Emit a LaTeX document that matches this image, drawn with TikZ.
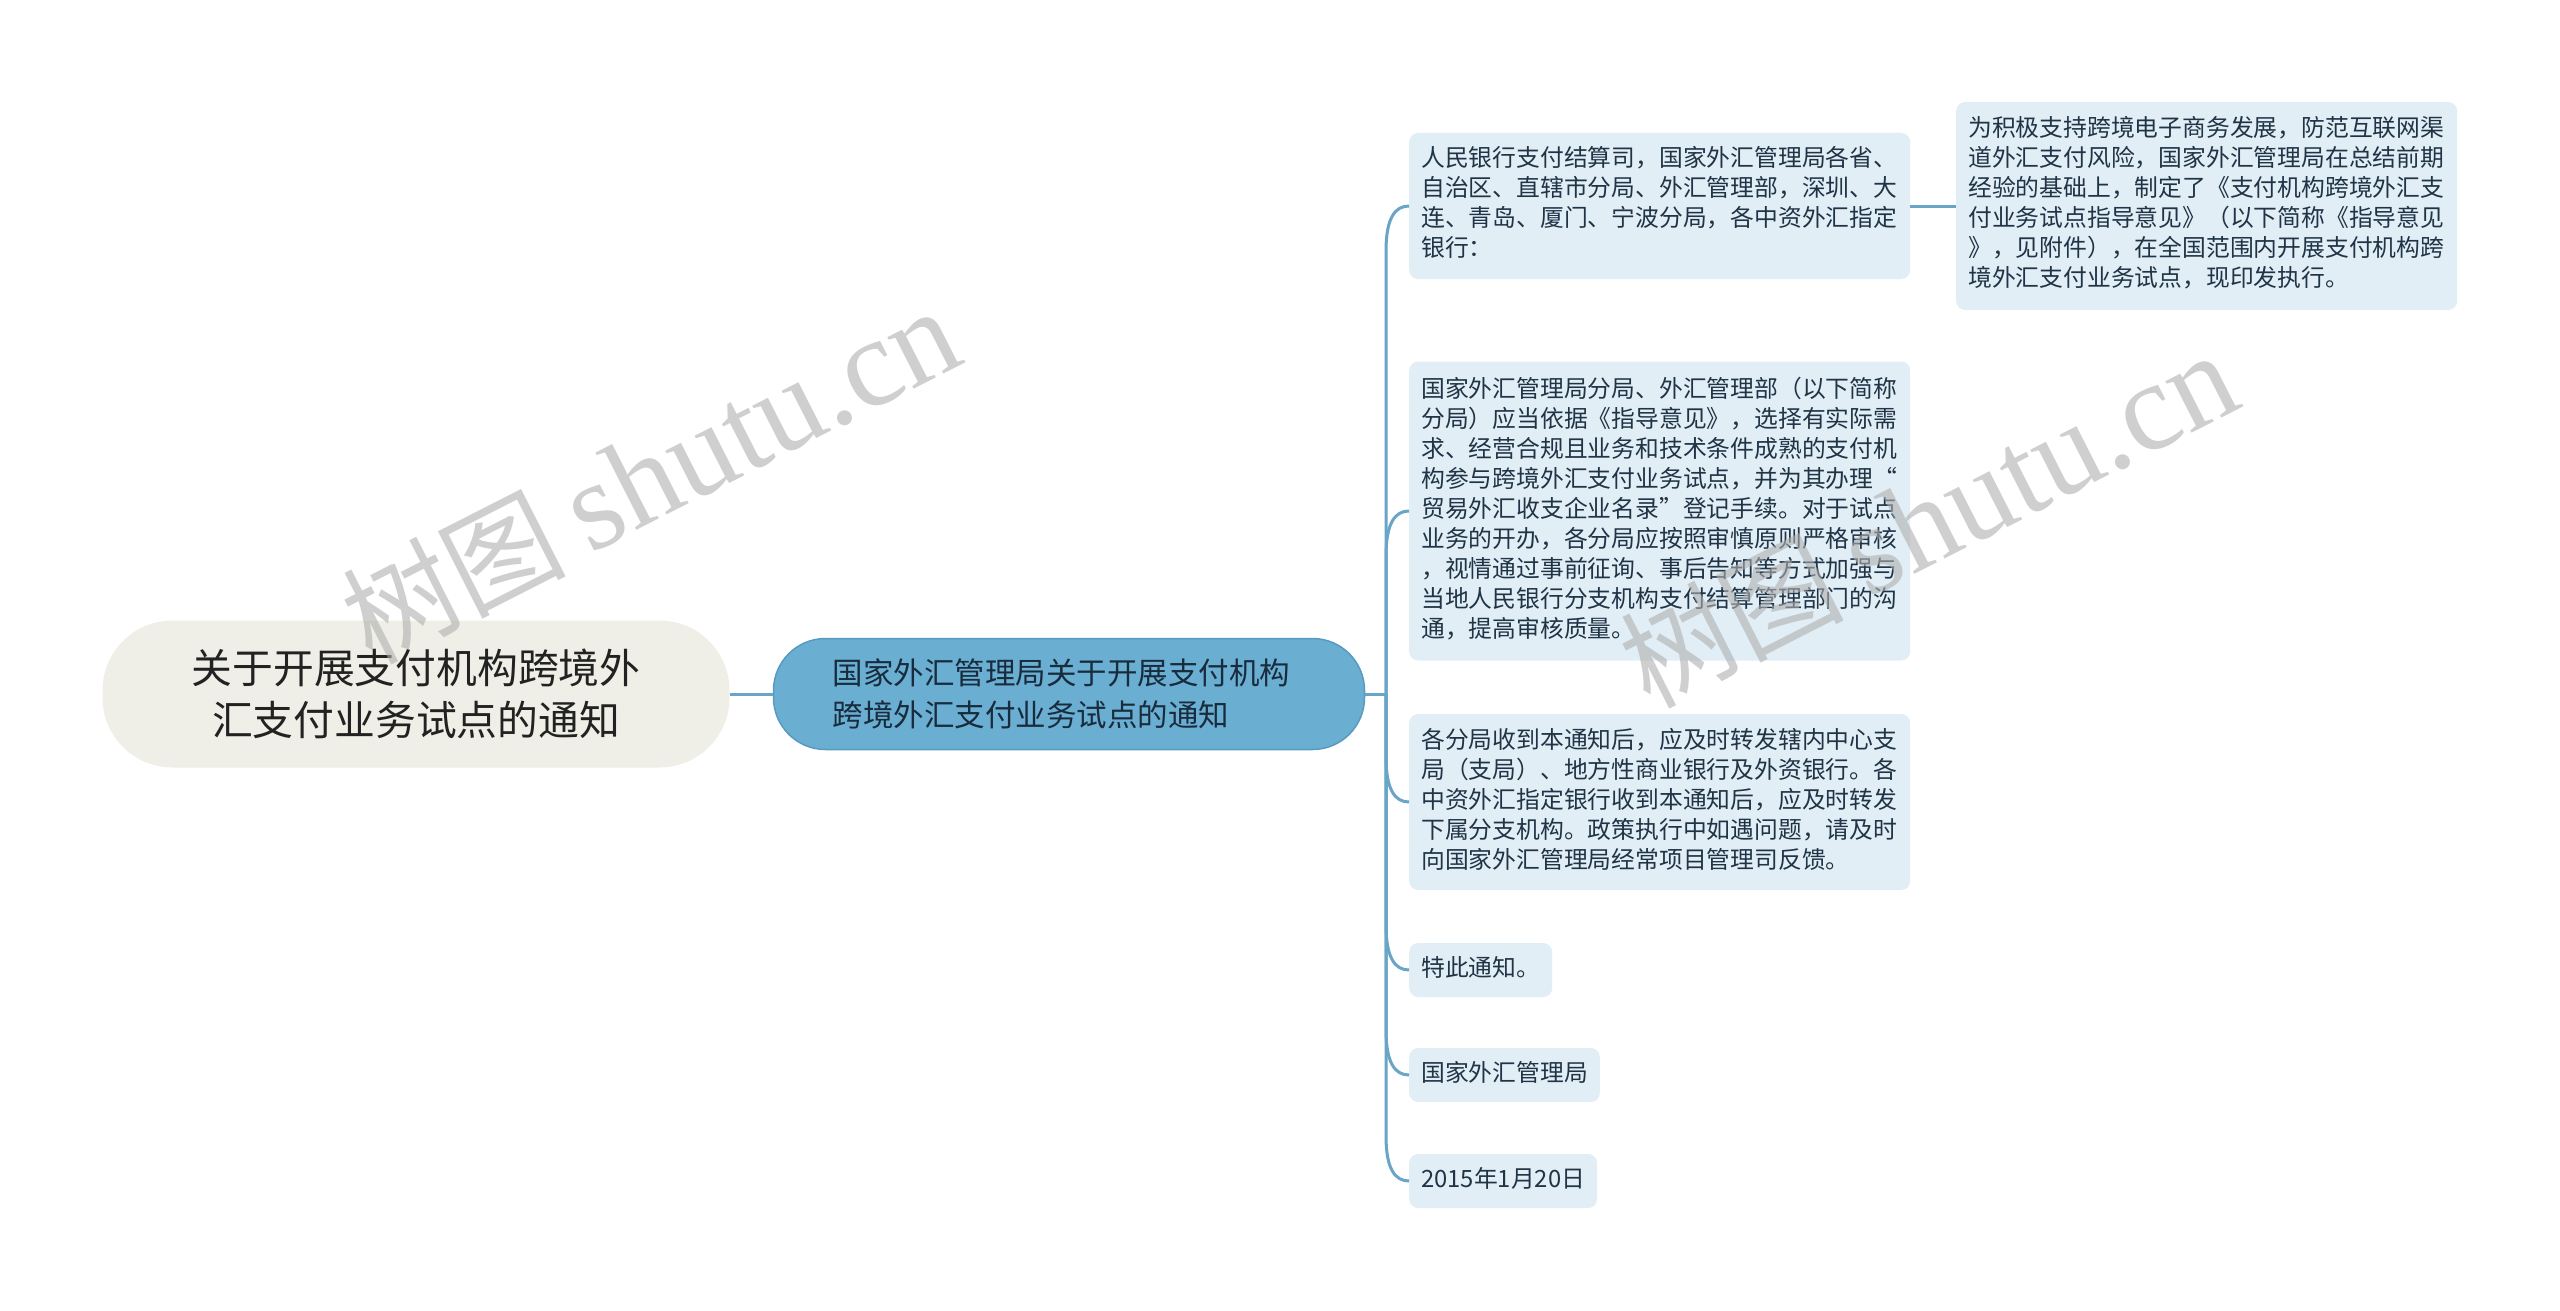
\documentclass[tikz,border=0pt]{standalone}
\usepackage{fontspec}
\newfontfamily\cjk{Noto Sans CJK SC}
\newfontfamily\wmserif{Liberation Serif}
\usetikzlibrary{calc}
\definecolor{conncol}{RGB}{104,165,198}
\definecolor{childfill}{RGB}{226,238,246}
\definecolor{childtext}{RGB}{32,52,70}
\definecolor{mainfill}{RGB}{106,174,210}
\definecolor{maindraw}{RGB}{88,154,192}
\definecolor{maintext}{RGB}{24,44,62}
\definecolor{rootfill}{RGB}{239,239,231}
\definecolor{roottext}{RGB}{34,34,34}
\definecolor{wmcol}{RGB}{175,175,175}
\tikzset{
  conn/.style={draw=conncol, line width=3pt},
  leafbox/.style={fill=childfill, rounded corners=9pt, anchor=west, inner xsep=12pt, inner ysep=13pt,
    text=childtext, align=left, font=\cjk\fontsize{23.8}{30}\selectfont},
  widebox/.style={leafbox, text width=477pt},
  wmark/.style={text=wmcol, opacity=0.6, anchor=base west, rotate=27, inner sep=0pt},
}
\newcommand{\wmtext}{{\cjk\fontsize{112}{112}\selectfont 树图}\hspace{22pt}{\wmserif\fontsize{126}{126}\selectfont shutu.cn}}
\begin{document}
\begin{tikzpicture}[x=1pt,y=-1pt]
\useasboundingbox (0,0) rectangle (2560,1311);
\fill[white] (0,0) rectangle (2560,1311);

% root
\node[fill=rootfill, rounded corners=70pt, minimum width=627pt, minimum height=147pt, inner sep=0pt,
  align=center, text=roottext, font=\cjk\fontsize{40.8}{52}\selectfont] (root) at (416,694)
  {关于开展支付机构跨境外\\汇支付业务试点的通知};

% main
\node[fill=mainfill, draw=maindraw, line width=1.5pt, rounded corners=52pt, minimum height=111pt,
  text width=473pt, inner xsep=59pt, inner ysep=0pt, align=left, text=maintext,
  font=\cjk\fontsize{30.5}{42}\selectfont] (main) at (1069,694)
  {国家外汇管理局关于开展支付机构\\跨境外汇支付业务试点的通知};

% children
\node[widebox] (c1) at (1409,206) {\strut 人民银行支付结算司，国家外汇管理局各省、\\自治区、直辖市分局、外汇管理部，深圳、大\\连、青岛、厦门、宁波分局，各中资外汇指定\\银行：\strut};
\node[widebox, inner ysep=14.5pt] (c2) at (1409,511) {\strut 国家外汇管理局分局、外汇管理部（以下简称\\分局）应当依据《指导意见》，选择有实际需\\求、经营合规且业务和技术条件成熟的支付机\\构参与跨境外汇支付业务试点，并为其办理“\\贸易外汇收支企业名录”登记手续。对于试点\\业务的开办，各分局应按照审慎原则严格审核\\，视情通过事前征询、事后告知等方式加强与\\当地人民银行分支机构支付结算管理部门的沟\\通，提高审核质量。\strut};
\node[widebox] (c3) at (1409,802) {\strut 各分局收到本通知后，应及时转发辖内中心支\\局（支局）、地方性商业银行及外资银行。各\\中资外汇指定银行收到本通知后，应及时转发\\下属分支机构。政策执行中如遇问题，请及时\\向国家外汇管理局经常项目管理司反馈。\strut};
\node[leafbox, inner ysep=12pt] (c4) at (1409,970) {\strut 特此通知。};
\node[leafbox, inner ysep=12pt] (c5) at (1409,1075) {\strut 国家外汇管理局};
\node[leafbox, inner ysep=12pt] (c6) at (1409,1181) {\strut 2015年1月20日};

% grandchild
\node[widebox, inner ysep=14pt] (gc) at (1956,206) {\strut 为积极支持跨境电子商务发展，防范互联网渠\\道外汇支付风险，国家外汇管理局在总结前期\\经验的基础上，制定了《支付机构跨境外汇支\\付业务试点指导意见》（以下简称《指导意见\\》，见附件），在全国范围内开展支付机构跨\\境外汇支付业务试点，现印发执行。\strut};

% connectors
\coordinate (sp) at (1386,694);
\draw[conn] (root.east) -- (main.west);
\draw[conn] (main.east) -- (sp);
\draw[conn] (sp) -- ($(c1.west)+(-23,45)$) .. controls ($(c1.west)+(-23,12)$) and ($(c1.west)+(-14,0)$) .. (c1.west);
\draw[conn] (sp) -- ($(c2.west)+(-23,45)$) .. controls ($(c2.west)+(-23,12)$) and ($(c2.west)+(-14,0)$) .. (c2.west);
\draw[conn] (sp) -- ($(c3.west)+(-23,-45)$) .. controls ($(c3.west)+(-23,-12)$) and ($(c3.west)+(-14,0)$) .. (c3.west);
\draw[conn] (sp) -- ($(c4.west)+(-23,-45)$) .. controls ($(c4.west)+(-23,-12)$) and ($(c4.west)+(-14,0)$) .. (c4.west);
\draw[conn] (sp) -- ($(c5.west)+(-23,-45)$) .. controls ($(c5.west)+(-23,-12)$) and ($(c5.west)+(-14,0)$) .. (c5.west);
\draw[conn] (sp) -- ($(c6.west)+(-23,-45)$) .. controls ($(c6.west)+(-23,-12)$) and ($(c6.west)+(-14,0)$) .. (c6.west);
\draw[conn] (c1.east) -- (gc.west);

% watermarks
\node[wmark] (wm1) at (371,666) {\wmtext};
\node[wmark] (wm2) at (1649,710) {\wmtext};
\end{tikzpicture}
\end{document}
